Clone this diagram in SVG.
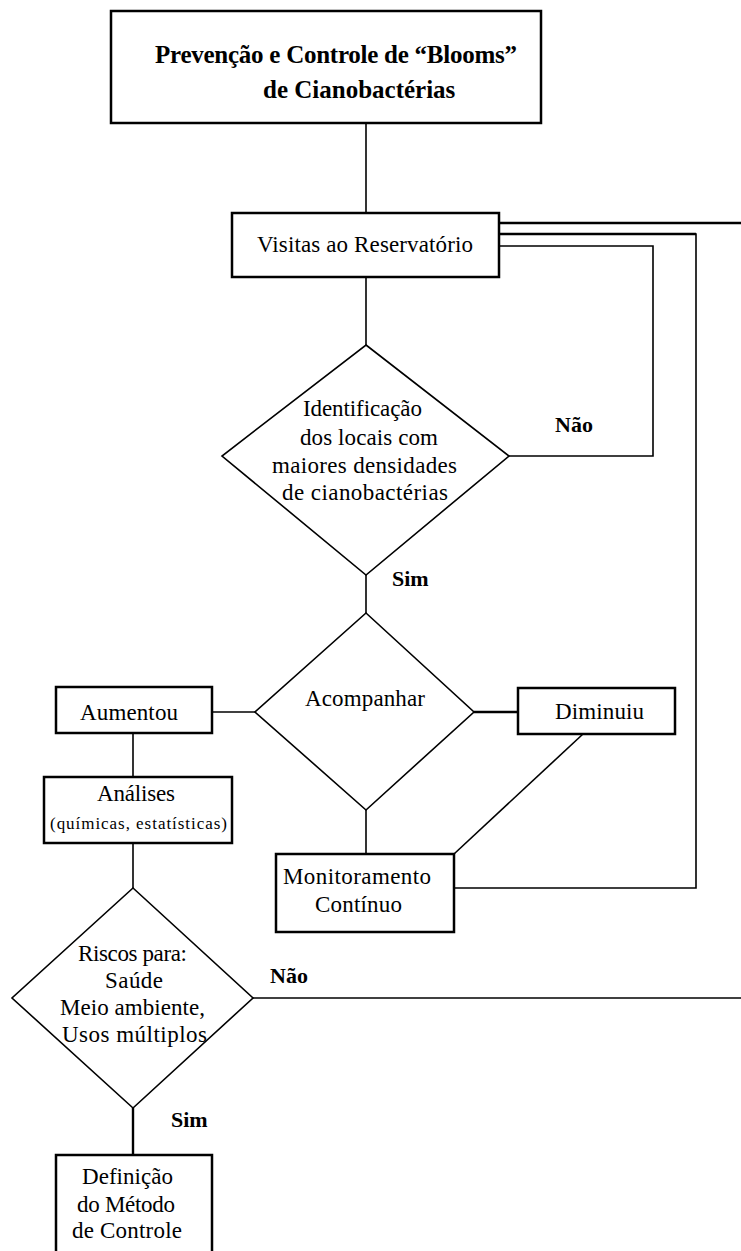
<svg xmlns="http://www.w3.org/2000/svg" width="741" height="1251" viewBox="0 0 741 1251">
<style>
.box{fill:#fff;stroke:#000;stroke-width:2.5}
.dia{fill:#fff;stroke:#000;stroke-width:1.6}
.ln{fill:none;stroke:#000;stroke-width:1.6}
.lnb{fill:none;stroke:#000;stroke-width:2.4}
text{font-family:"Liberation Serif","Times New Roman",serif;fill:#000}
.t{font-size:23px}
.s{font-size:17px}
.b{font-size:22px;font-weight:bold}
.ti{font-size:25px;font-weight:bold}
</style>
<rect width="741" height="1251" fill="#fff"/>
<g id="connectors">
<line class="ln" x1="366" y1="123" x2="366" y2="213"/>
<line class="ln" x1="366" y1="277" x2="366" y2="345"/>
<polyline class="ln" points="509,456 653,456 653,246 499,246"/>
<line class="ln" x1="366" y1="575" x2="366" y2="613"/>
<line class="ln" x1="255" y1="712" x2="212" y2="712"/>
<line class="lnb" x1="474" y1="712" x2="518" y2="712"/>
<line class="ln" x1="133" y1="733" x2="133" y2="777"/>
<line class="ln" x1="366" y1="810" x2="366" y2="854"/>
<line class="ln" x1="583" y1="734" x2="454" y2="854"/>
<polyline class="ln" points="454,888 696,888 696,234 499,234"/>
<line class="lnb" x1="499" y1="234" x2="696" y2="234"/>
<line class="ln" x1="133" y1="843" x2="133" y2="888"/>
<line class="ln" x1="253" y1="998" x2="741" y2="998"/>
<line class="lnb" x1="499" y1="223" x2="741" y2="223"/>
<line class="lnb" x1="133" y1="1108" x2="133" y2="1155"/>
<text class="b" x="555" y="432">Não</text>
<text class="b" x="392" y="586">Sim</text>
<text class="b" x="270" y="983">Não</text>
<text class="b" x="171" y="1127">Sim</text>
</g>
<g id="titulo">
<rect class="box" x="111" y="11" width="430" height="112"/>
<text class="ti" x="155" y="63" textLength="362">Prevenção e Controle de “Blooms”</text>
<text class="ti" x="263" y="98">de Cianobactérias</text>
</g>
<g id="visitas">
<rect class="box" x="232" y="213" width="267" height="64"/>
<text class="t" x="257" y="252" textLength="216">Visitas ao Reservatório</text>
</g>
<g id="identificacao">
<polygon class="dia" points="366,345 509,456 366,575 222,456"/>
<text class="t" x="303" y="416" textLength="119">Identificação</text>
<text class="t" x="300" y="445" textLength="138">dos locais com</text>
<text class="t" x="272" y="473" textLength="185">maiores densidades</text>
<text class="t" x="282" y="500" textLength="166">de cianobactérias</text>
</g>
<g id="acompanhar">
<polygon class="dia" points="366,613 474,712 366,810 255,712"/>
<text class="t" x="305" y="706" textLength="120">Acompanhar</text>
</g>
<g id="aumentou">
<rect class="box" x="56" y="687" width="156" height="46"/>
<text class="t" x="80" y="720" textLength="98">Aumentou</text>
</g>
<g id="diminuiu">
<rect class="box" x="518" y="688" width="157" height="46"/>
<text class="t" x="555" y="719" textLength="89">Diminuiu</text>
</g>
<g id="analises">
<rect class="box" x="44" y="777" width="188" height="66"/>
<text class="t" x="97" y="801" textLength="78">Análises</text>
<text class="s" x="50" y="829" textLength="177">(químicas, estatísticas)</text>
</g>
<g id="monitoramento">
<rect class="box" x="276" y="854" width="178" height="78"/>
<text class="t" x="283" y="884" textLength="148">Monitoramento</text>
<text class="t" x="315" y="912" textLength="87">Contínuo</text>
</g>
<g id="riscos">
<polygon class="dia" points="133,888 253,998 133,1108 12,998"/>
<text class="t" x="78" y="961" textLength="109">Riscos para:</text>
<text class="t" x="105" y="988" textLength="58">Saúde</text>
<text class="t" x="60" y="1015" textLength="145">Meio ambiente,</text>
<text class="t" x="62" y="1042" textLength="145">Usos múltiplos</text>
</g>
<g id="definicao">
<rect class="box" x="56" y="1155" width="156" height="110"/>
<text class="t" x="82" y="1184" textLength="91">Definição</text>
<text class="t" x="77" y="1212" textLength="98">do Método</text>
<text class="t" x="72" y="1238" textLength="110">de Controle</text>
</g>
</svg>
